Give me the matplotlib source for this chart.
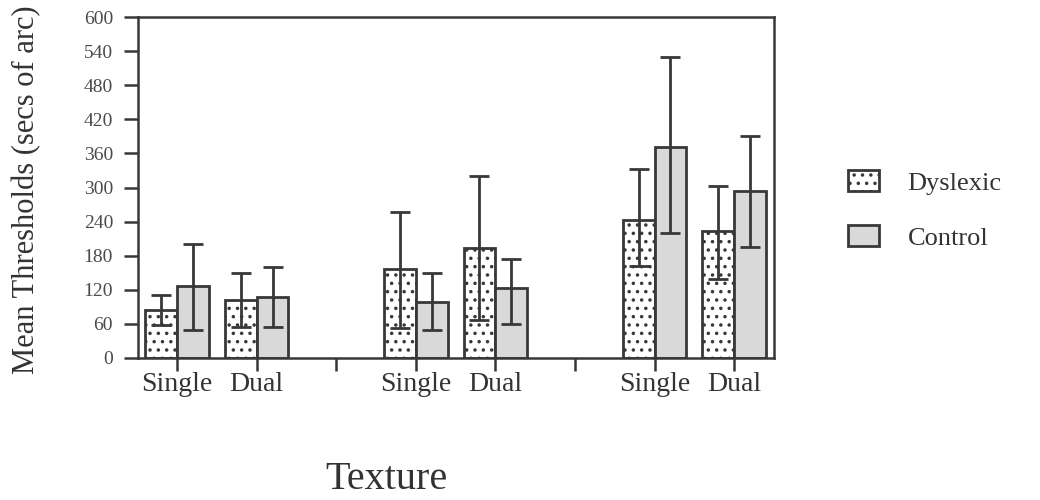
#!/usr/bin/python3
"""
Mean thresholds for dyslexic and control groups, single vs dual texture.
"""
import numpy as np
import matplotlib
matplotlib.use('Agg')
import matplotlib.pyplot as plt
from matplotlib.patches import Patch

# Conditions along the x axis (three unlabeled groups of Single/Dual).
tick_labels = ['Single', 'Dual', '', 'Single', 'Dual', '', 'Single', 'Dual']
bar_slots = [0, 1, 3, 4, 6, 7]

# Dyslexic group: means and error lengths (up / down), secs of arc.
dys_mean = [84, 102, 157, 194, 243, 224]
dys_err_up = [27, 48, 100, 126, 90, 79]
dys_err_dn = [26, 47, 105, 128, 81, 85]

# Control group.
con_mean = [127, 108, 99, 123, 371, 294]
con_err_up = [73, 52, 51, 51, 159, 97]
con_err_dn = [78, 53, 49, 63, 151, 99]

series_names = ['Dyslexic', 'Control']


def main():
    plt.rcParams['font.family'] = ['Liberation Serif', 'DejaVu Serif']
    plt.rcParams['hatch.linewidth'] = 1.3
    ink = '#383838'
    grey = '#d9d9d9'

    fig = plt.figure(figsize=(10.4, 5.0), dpi=100)
    ax = fig.add_axes([0.1327, 0.284, 0.6115, 0.682])

    x = np.array(bar_slots, dtype=float)
    width = 0.4
    ax.bar(x - width, dys_mean, width, align='edge', facecolor='white',
           edgecolor=ink, linewidth=2.0, hatch='..', zorder=2)
    ax.bar(x, con_mean, width, align='edge', facecolor=grey,
           edgecolor=ink, linewidth=2.0, zorder=2)
    ax.errorbar(x - width / 2, dys_mean, yerr=[dys_err_dn, dys_err_up],
                fmt='none', ecolor=ink, elinewidth=2.0, capsize=7,
                capthick=2.0, zorder=3)
    ax.errorbar(x + width / 2, con_mean, yerr=[con_err_dn, con_err_up],
                fmt='none', ecolor=ink, elinewidth=2.0, capsize=7,
                capthick=2.0, zorder=3)

    ax.set_xlim(-0.49, 7.5)
    ax.set_ylim(0, 600)
    ax.set_yticks(np.arange(0, 601, 60))
    ax.set_xticks(range(len(tick_labels)))
    ax.set_xticklabels(tick_labels)

    for sp in ax.spines.values():
        sp.set_color(ink)
        sp.set_linewidth(1.8)
    ax.tick_params(axis='y', direction='out', length=10, width=1.8,
                   color=ink, labelsize=14, labelcolor='#4a4a4a', pad=8)
    ax.tick_params(axis='x', direction='out', length=9, width=1.8,
                   color=ink, labelsize=20, labelcolor='#333333', pad=1)

    fig.text(0.026, 0.62, 'Mean Thresholds (secs of arc)', rotation=90,
             ha='center', va='center', fontsize=22, color='#333333')
    fig.text(0.372, 0.022, 'Texture', ha='center', va='baseline',
             fontsize=29, color='#333333')

    handles = [Patch(facecolor='white', edgecolor=ink, hatch='..',
                     linewidth=2.0),
               Patch(facecolor=grey, edgecolor=ink, linewidth=2.0)]
    fig.legend(handles, series_names, loc='center left',
               bbox_to_anchor=(0.793, 0.58), frameon=False, fontsize=19,
               handlelength=1.14, handleheight=0.83, handletextpad=1.1,
               labelspacing=1.15, labelcolor='#333333')

    fig.savefig('out.png', dpi=100)


if __name__ == '__main__':
    main()
